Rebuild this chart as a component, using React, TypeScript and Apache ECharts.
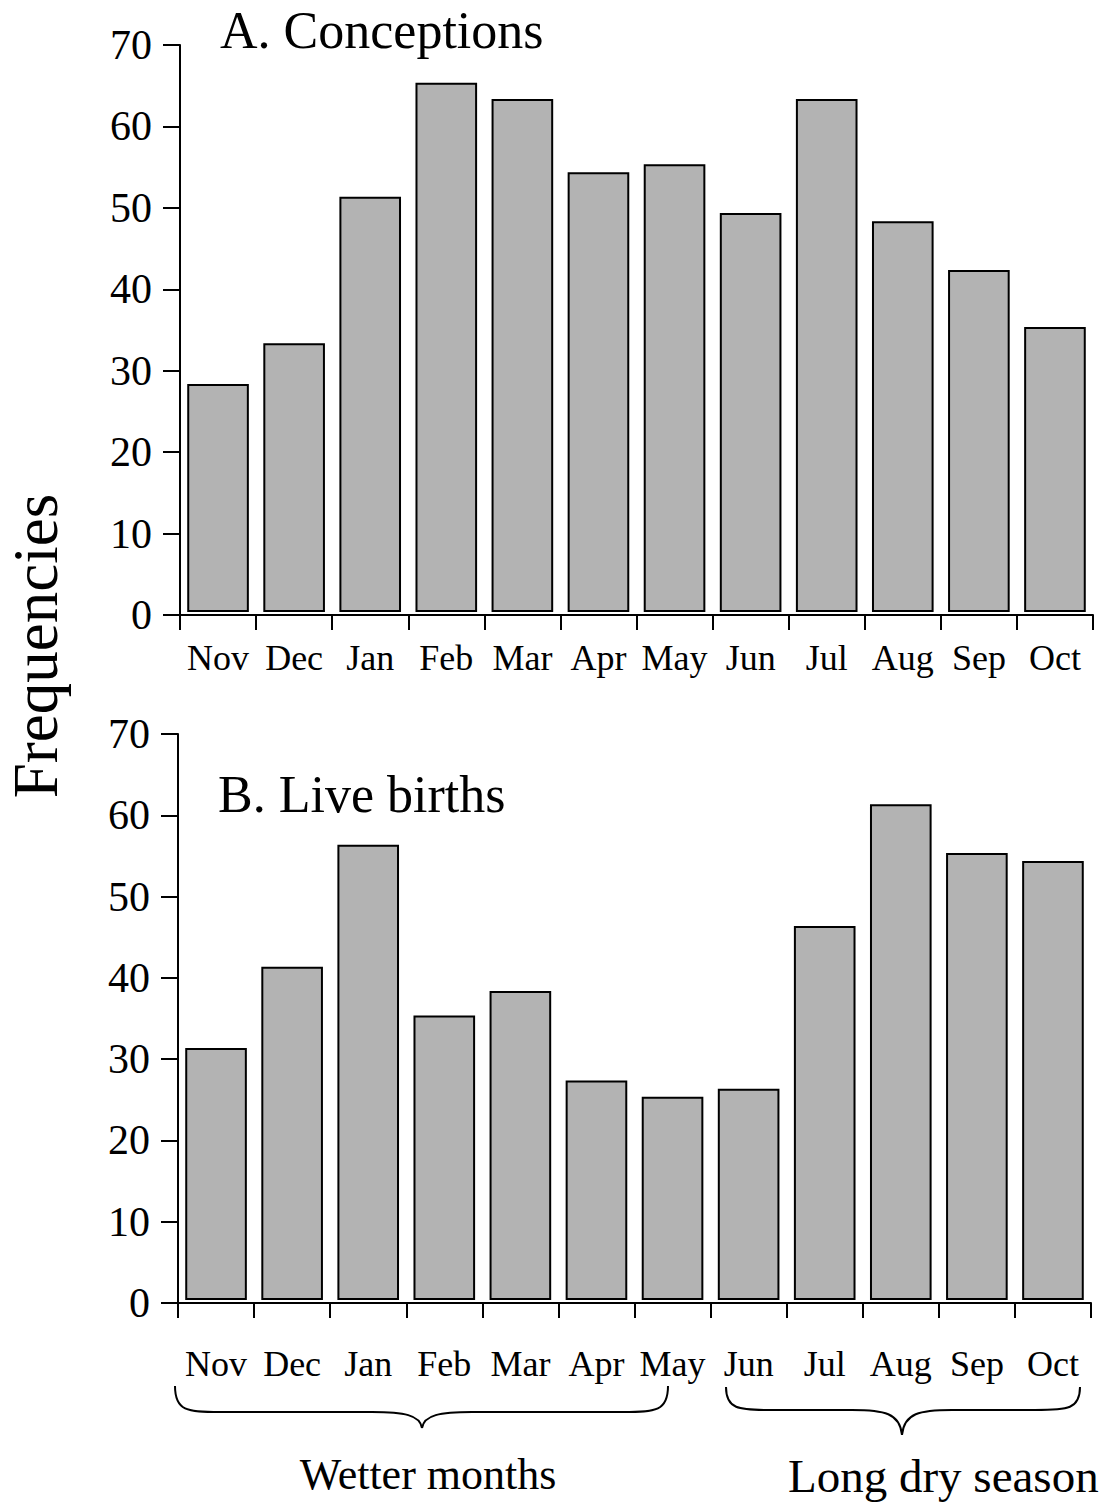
import React, { useEffect, useRef } from "react";
import * as echarts from "echarts";

const months = ["Nov", "Dec", "Jan", "Feb", "Mar", "Apr", "May", "Jun", "Jul", "Aug", "Sep", "Oct"];
const conceptions = [28, 33, 51, 65, 63, 54, 55, 49, 63, 48, 42, 35];
const liveBirths = [31, 41, 56, 35, 38, 27, 25, 26, 46, 61, 55, 54];
const yMin = 0;
const yMax = 70;
const yInterval = 10;
const panelTitles = ["A. Conceptions", "B. Live births"];
const yAxisTitle = "Frequencies";
const seasonLabels = ["Wetter months", "Long dry season"];

const FONT = "Liberation Serif";
const BAR_FILL = "#b3b3b3";

function brace(x0: number, x1: number, xm: number, yTip: number, yLine: number, yPt: number) {
  const st = { stroke: "#000", lineWidth: 2, fill: "none" };
  return [
    {
      type: "bezierCurve",
      shape: { x1: x0, y1: yTip, cpx1: x0, cpy1: yLine - 1, cpx2: x0 + 12, cpy2: yLine, x2: x0 + 45, y2: yLine },
      style: st,
    },
    { type: "line", shape: { x1: x0 + 45, y1: yLine, x2: xm - 50, y2: yLine }, style: st },
    {
      type: "bezierCurve",
      shape: { x1: xm - 50, y1: yLine, cpx1: xm - 18, cpy1: yLine, cpx2: xm - 2, cpy2: yLine + 3, x2: xm, y2: yPt },
      style: st,
    },
    {
      type: "bezierCurve",
      shape: { x1: xm, y1: yPt, cpx1: xm + 2, cpy1: yLine + 3, cpx2: xm + 18, cpy2: yLine, x2: xm + 50, y2: yLine },
      style: st,
    },
    { type: "line", shape: { x1: xm + 50, y1: yLine, x2: x1 - 45, y2: yLine }, style: st },
    {
      type: "bezierCurve",
      shape: { x1: x1 - 45, y1: yLine, cpx1: x1 - 12, cpy1: yLine, cpx2: x1, cpy2: yLine - 1, x2: x1, y2: yTip },
      style: st,
    },
  ];
}

export default function App() {
  const ref = useRef<HTMLDivElement>(null);
  useEffect(() => {
    document.body.style.margin = "0";
    const chart = echarts.init(ref.current!, null, { renderer: "svg" });

    const axesX = (gridIndex: number, margin: number) => ({
      type: "category",
      gridIndex,
      data: months,
      boundaryGap: true,
      axisLine: { show: true, lineStyle: { color: "#000", width: 2 } },
      axisTick: { show: true, length: 15, lineStyle: { color: "#000", width: 2 }, alignWithLabel: false },
      axisLabel: { interval: 0, color: "#000", fontFamily: FONT, fontSize: 36, margin },
      splitLine: { show: false },
    });
    const axesY = (gridIndex: number) => ({
      type: "value",
      gridIndex,
      min: yMin,
      max: yMax,
      interval: yInterval,
      axisLine: { show: true, lineStyle: { color: "#000", width: 2 } },
      axisTick: { show: true, length: 17, lineStyle: { color: "#000", width: 2 } },
      axisLabel: { color: "#000", fontFamily: FONT, fontSize: 42, margin: 28 },
      splitLine: { show: false },
    });
    const hiddenX = (gridIndex: number) => ({ type: "category", gridIndex, data: months, show: false });
    const hiddenY = (gridIndex: number) => ({ type: "value", gridIndex, min: yMin, max: yMax, show: false });

    const barSeries = (idx: number, data: number[]) => ({
      type: "bar",
      xAxisIndex: idx,
      yAxisIndex: idx,
      data,
      barCategoryGap: "19%",
      silent: true,
      itemStyle: { color: BAR_FILL, borderColor: "#000", borderWidth: 2 },
    });

    const textStyle = (size: number) => ({ fill: "#000", fontFamily: FONT, fontSize: size });

    chart.setOption({
      animation: false,
      backgroundColor: "#fff",
      grid: [
        { left: 180, top: 45, width: 913, height: 570 },
        { left: 180, top: 42, width: 913, height: 570 },
        { left: 178, top: 734, width: 913, height: 569 },
        { left: 178, top: 731, width: 913, height: 569 },
      ],
      xAxis: [axesX(0, 25), hiddenX(1), axesX(2, 43), hiddenX(3)],
      yAxis: [axesY(0), hiddenY(1), axesY(2), hiddenY(3)],
      series: [barSeries(1, conceptions), barSeries(3, liveBirths)],
      graphic: [
        {
          type: "text",
          x: 220,
          y: 30,
          style: { ...textStyle(52), text: panelTitles[0], align: "left", verticalAlign: "middle" },
        },
        {
          type: "text",
          x: 218,
          y: 794,
          style: { ...textStyle(52), text: panelTitles[1], align: "left", verticalAlign: "middle" },
        },
        {
          type: "text",
          x: 36,
          y: 646,
          rotation: Math.PI / 2,
          style: { ...textStyle(63), text: yAxisTitle, align: "center", verticalAlign: "middle" },
        },
        {
          type: "text",
          x: 428,
          y: 1474,
          style: { ...textStyle(44), text: seasonLabels[0], align: "center", verticalAlign: "middle" },
        },
        {
          type: "text",
          x: 788,
          y: 1476,
          style: { ...textStyle(47), text: seasonLabels[1], align: "left", verticalAlign: "middle" },
        },
        ...brace(175, 668, 422, 1386, 1412, 1428),
        ...brace(726, 1080, 902, 1387, 1410, 1435),
      ],
    });
    return () => chart.dispose();
  }, []);
  return <div ref={ref} style={{ width: 1112, height: 1511 }} />;
}
